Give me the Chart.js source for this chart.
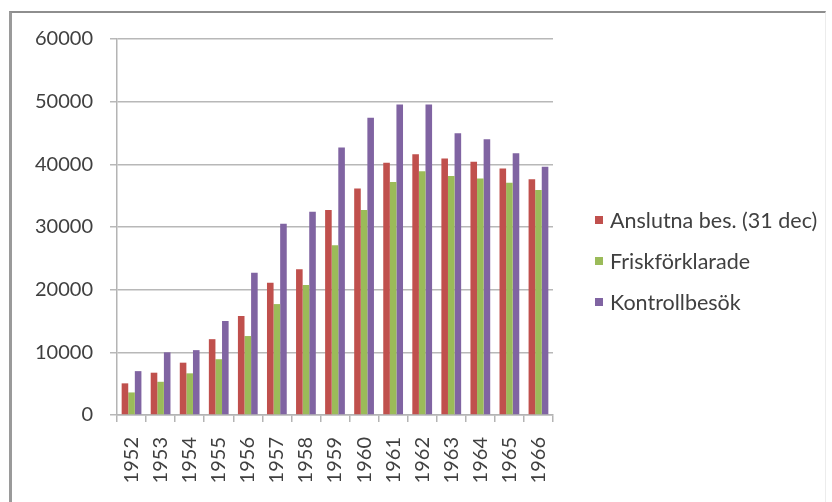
<!DOCTYPE html>
<html>
<head>
<meta charset="utf-8">
<script src="https://cdn.jsdelivr.net/npm/chart.js@4"></script>
<style>
  html, body { margin: 0; padding: 0; background: #ffffff; }
  #wrap { position: relative; width: 832px; height: 502px; overflow: hidden; }
  #frame {
    position: absolute; left: 9px; top: 11px; width: 813px; height: 500px;
    border-top: 2px solid #8e8e8e; border-left: 3px solid #9a9a9a;
    border-right: 1px solid #ececec; pointer-events: none;
  }
  canvas { position: absolute; left: 0; top: 0; }
</style>
</head>
<body>
<div id="wrap">
  <canvas id="c" width="832" height="502"></canvas>
  <div id="frame"></div>
</div>
<script>
// Years on the category axis
const years = ['1952','1953','1954','1955','1956','1957','1958','1959','1960','1961','1962','1963','1964','1965','1966'];

// Series
const anslutna = [5050, 6750, 8350, 12100, 15800, 21100, 23250, 32700, 36150, 40250, 41600, 40950, 40400, 39350, 37600];
const friskforklarade = [3600, 5300, 6650, 8900, 12600, 17700, 20750, 27100, 32700, 37200, 38900, 38150, 37750, 37050, 35900];
const kontrollbesok = [7000, 10000, 10350, 15000, 22700, 30500, 32450, 42700, 47450, 49550, 49550, 44950, 44000, 41750, 39600];

const seriesNames = ['Anslutna bes. (31 dec)', 'Friskförklarade', 'Kontrollbesök'];
const seriesColors = ['#C0504D', '#9BBB59', '#8064A2'];

// Y axis ticks
const yMin = 0, yMax = 60000, yStep = 10000;

const textColor = '#404040';
const fontFamily = 'Lato, "Open Sans", sans-serif';

// Legend drawn to the right of the plot, one row per dataset
const sideLegend = {
  id: 'sideLegend',
  afterDraw(chart) {
    const ctx = chart.ctx;
    const x0 = 595, y0 = 220, pitch = 41, box = 8;
    ctx.save();
    ctx.font = '21.5px ' + fontFamily;
    ctx.textBaseline = 'middle';
    ctx.textAlign = 'left';
    chart.data.datasets.forEach((ds, i) => {
      const y = y0 + i * pitch;
      ctx.fillStyle = ds.backgroundColor;
      ctx.fillRect(x0, y - box / 2, box, box);
      ctx.fillStyle = textColor;
      ctx.fillText(ds.label, x0 + box + 7, y + 1);
    });
    ctx.restore();
  }
};

new Chart(document.getElementById('c'), {
  type: 'bar',
  data: {
    labels: years,
    datasets: [
      { label: seriesNames[0], data: anslutna, backgroundColor: seriesColors[0] },
      { label: seriesNames[1], data: friskforklarade, backgroundColor: seriesColors[1] },
      { label: seriesNames[2], data: kontrollbesok, backgroundColor: seriesColors[2] }
    ]
  },
  options: {
    responsive: false,
    animation: false,
    devicePixelRatio: 1,
    layout: { padding: { left: 0, top: 39, right: 279, bottom: 0 } },
    datasets: { bar: { categoryPercentage: 0.68, barPercentage: 1.0, borderWidth: 0 } },
    plugins: {
      legend: { display: false },
      tooltip: { enabled: false }
    },
    scales: {
      x: {
        grid: {
          offset: true, drawOnChartArea: false, drawTicks: true,
          tickLength: 7, color: '#b4b4b4', lineWidth: 1.5
        },
        border: { display: true, color: '#b4b4b4', width: 1.5 },
        ticks: {
          color: textColor, font: { family: fontFamily, size: 20 },
          minRotation: 90, maxRotation: 90, padding: 15, autoSkip: false
        },
        afterFit(scale) { scale.height = 87; }
      },
      y: {
        min: yMin, max: yMax,
        grid: { color: '#b8b8b8', lineWidth: 1.5, tickLength: 7, drawTicks: true },
        border: { display: true, color: '#b4b4b4', width: 1.5 },
        ticks: {
          stepSize: yStep, color: textColor, padding: 17,
          font: { family: fontFamily, size: 20 },
          callback: v => String(v)
        },
        afterFit(scale) { scale.width = 117; }
      }
    }
  },
  plugins: [sideLegend]
});
</script>
</body>
</html>
